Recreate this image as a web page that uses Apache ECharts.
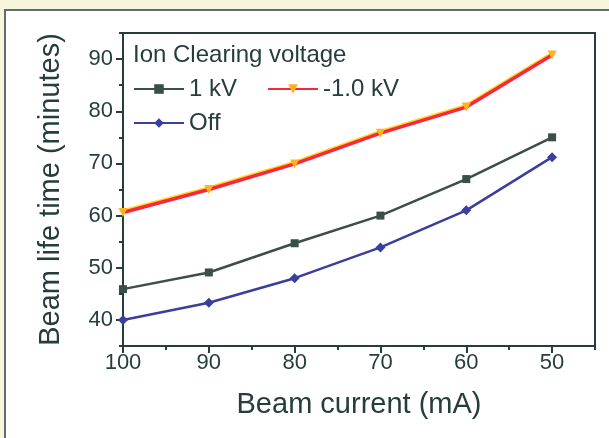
<!DOCTYPE html>
<html>
<head>
<meta charset="utf-8">
<script src="https://cdn.jsdelivr.net/npm/echarts@6/dist/echarts.min.js"></script>
<style>
  html, body { margin: 0; padding: 0; background: #f7f6dc; }
  #chart { width: 609px; height: 438px; }
</style>
</head>
<body>
<div id="chart"></div>
<script>
// 数据
var current = [100, 90, 80, 70, 60, 50];
var kv1 = [45.9, 49.1, 54.7, 60.0, 67.0, 75.0];
var kvNeg = [60.6, 65.0, 69.9, 75.8, 80.8, 90.8];
var off = [40.0, 43.3, 48.0, 53.9, 61.0, 71.2];
var xTicks = [100, 90, 80, 70, 60, 50];
var yTicks = [40, 50, 60, 70, 80, 90];

var ink = '#263e3b';
var font = '"Liberation Sans", Arial, sans-serif';

function pairs(ys) {
  return current.map(function (x, i) { return [x, ys[i]]; });
}

var chart = echarts.init(document.getElementById('chart'));

var option = {
  animation: false,
  backgroundColor: 'transparent',
  textStyle: { fontFamily: font, color: ink },
  //外框
  graphic: [{
    type: 'rect',
    z: -10,
    shape: { x: 5, y: 10, width: 640, height: 460 },
    style: { fill: '#ffffff', stroke: '#5d6e6b', lineWidth: 2 }
  }],
  title: {
    text: 'Ion Clearing voltage',
    left: 128, top: 38,
    textStyle: { fontFamily: font, fontSize: 24, fontWeight: 'normal', color: ink }
  },
  legend: [{
    data: ['1 kV', '-1.0 kV'],
    left: 128, top: 72,
    itemWidth: 50, itemHeight: 12, itemGap: 30,
    textStyle: { fontFamily: font, fontSize: 24, color: ink }
  }, {
    data: ['Off'],
    left: 128, top: 106,
    itemWidth: 50, itemHeight: 12,
    textStyle: { fontFamily: font, fontSize: 24, color: ink }
  }],
  grid: {
    left: 123, right: 14, top: 33, bottom: 92,
    show: true, borderColor: ink, borderWidth: 2,
    containLabel: false
  },
  xAxis: [{
    type: 'value', min: 45, max: 100, interval: 5, inverse: true,
    name: 'Beam current (mA)', nameLocation: 'middle', nameGap: 44,
    nameTextStyle: { fontFamily: font, fontSize: 29, color: ink },
    axisLine: { lineStyle: { color: ink, width: 2 } },
    axisTick: { length: 4, lineStyle: { color: ink, width: 2 } },
    axisLabel: {
      margin: 6, fontFamily: font, fontSize: 22, color: ink,
      customValues: xTicks
    },
    splitLine: { show: false }
  }, {
    type: 'value', min: 45, max: 100, inverse: true, position: 'bottom',
    axisLine: { show: false },
    axisTick: { length: 7, customValues: xTicks, lineStyle: { color: ink, width: 2 } },
    axisLabel: { show: false },
    splitLine: { show: false }
  }],
  yAxis: [{
    type: 'value', min: 35, max: 95, interval: 5,
    name: 'Beam life time (minutes)', nameLocation: 'middle', nameGap: 58,
    nameTextStyle: { fontFamily: font, fontSize: 29, color: ink },
    axisLine: { show: true, lineStyle: { color: ink, width: 2 } },
    axisTick: { show: true, length: 4, lineStyle: { color: ink, width: 2 } },
    axisLabel: {
      margin: 10, fontFamily: font, fontSize: 22, color: ink,
      customValues: yTicks
    },
    splitLine: { show: false }
  }, {
    type: 'value', min: 35, max: 95, position: 'left',
    axisLine: { show: false },
    axisTick: { show: true, length: 7, customValues: yTicks, lineStyle: { color: ink, width: 2 } },
    axisLabel: { show: false },
    splitLine: { show: false }
  }],
  series: [{
    name: '1 kV',
    type: 'line',
    data: pairs(kv1),
    symbol: 'rect', symbolSize: 8,
    itemStyle: { color: '#3b4f4a' },
    lineStyle: { color: '#3b4f4a', width: 2.5 }
  }, {
    name: '-1.0 kV',
    type: 'line',
    data: pairs(kvNeg),
    symbol: 'triangle', symbolRotate: 180, symbolSize: 9,
    itemStyle: { color: '#ffb21e' },
    lineStyle: {
      color: '#f7283c', width: 3.5,
      shadowColor: '#ffd81e', shadowBlur: 0, shadowOffsetY: -1.5
    }
  }, {
    name: 'Off',
    type: 'line',
    data: pairs(off),
    symbol: 'diamond', symbolSize: 10,
    itemStyle: { color: '#3a3f9e' },
    lineStyle: { color: '#3a3f9e', width: 2.5 }
  }]
};

chart.setOption(option);
</script>
</body>
</html>
